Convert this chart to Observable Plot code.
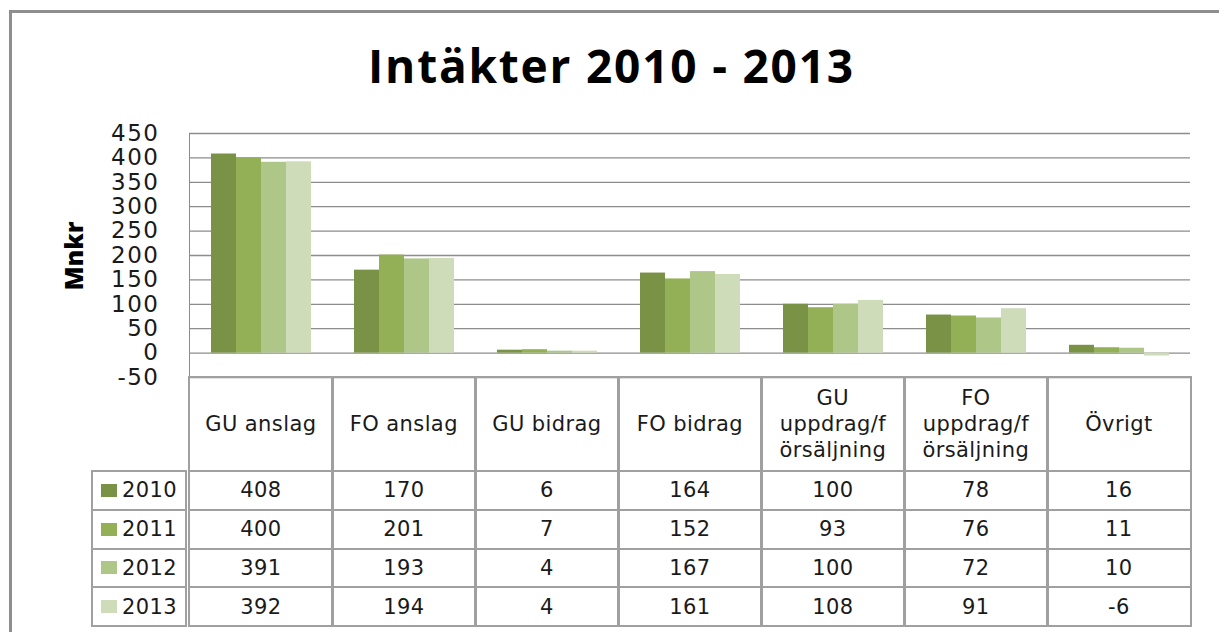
<!DOCTYPE html>
<html>
<head>
<meta charset="utf-8">
<script src="https://cdn.jsdelivr.net/npm/d3@7"></script>
<script src="https://cdn.jsdelivr.net/npm/@observablehq/plot@0.6"></script>
<style>
  html, body { margin: 0; padding: 0; background: #fff; overflow: hidden; }
  #root { position: relative; width: 1219px; height: 632px; overflow: hidden; background: #fff; }
  #frame { position: absolute; left: 9px; top: 10px; width: 1400px; height: 800px; box-sizing: border-box;
           border-left: 3px solid #8e8e8e; border-top: 3px solid #8e8e8e; }
  #title { position: absolute; left: 0; top: 42px; width: 1223px; text-align: center;
           font-family: "Open Sans", sans-serif; font-weight: 700; font-size: 46px; line-height: 46px;
           letter-spacing: 1.8px; color: #000; white-space: nowrap; }
  #ylab { position: absolute; left: 73px; top: 256px; transform: translate(-50%, -50%) rotate(-90deg);
          font-family: "Open Sans", sans-serif; font-weight: 800; font-size: 25px; line-height: 25px;
          color: #000; white-space: nowrap; }
  #chart { position: absolute; left: 0; top: 0; }
  #chart g[aria-label="y-axis tick label"] { fill: #1a1a1a; }
  .cell { position: absolute; box-sizing: border-box; border: 2px solid #a0a0a0; background: transparent;
          display: flex; align-items: center; justify-content: center; text-align: center;
          font-family: "DejaVu Sans", sans-serif; font-size: 21px; letter-spacing: 0.4px; color: #1a1a1a;
          white-space: pre-line; line-height: 26px; }
  .legend { justify-content: flex-start; padding-left: 8px; }
  .sw { width: 16px; height: 13px; margin-right: 5px; flex: none; }
</style>
</head>
<body>
<div id="root">
  <div id="frame"></div>
  <div id="title"></div>
  <div id="ylab"></div>
  <div id="chart"></div>
</div>
<script>
// ---- data ----
const title = "Intäkter 2010 - 2013";
const yLabel = "Mnkr";
const years = ["2010", "2011", "2012", "2013"];
const categories = ["GU anslag", "FO anslag", "GU bidrag", "FO bidrag",
  "GU uppdrag/försäljning", "FO uppdrag/försäljning", "Övrigt"];
const headerLabels = ["GU anslag", "FO anslag", "GU bidrag", "FO bidrag",
  "GU\nuppdrag/f\nörsäljning", "FO\nuppdrag/f\nörsäljning", "Övrigt"];
const values2010 = [408, 170, 6, 164, 100, 78, 16];
const values2011 = [400, 201, 7, 152, 93, 76, 11];
const values2012 = [391, 193, 4, 167, 100, 72, 10];
const values2013 = [392, 194, 4, 161, 108, 91, -6];
const yTicks = [-50, 0, 50, 100, 150, 200, 250, 300, 350, 400, 450];
const yearColors = ["#7a9245", "#93b057", "#aec789", "#cfdcb9"];

// ---- build ----
const series = [values2010, values2011, values2012, values2013];
const rows = years.flatMap((yr, i) => categories.map((c, j) => ({year: yr, category: c, value: series[i][j]})));

document.getElementById("title").textContent = title;
document.getElementById("ylab").textContent = yLabel;

const chart = Plot.plot({
  width: 1219,
  height: 380,
  marginLeft: 186,
  marginRight: 27,
  marginTop: 133,
  marginBottom: 3,
  style: {background: "transparent", fontFamily: "DejaVu Sans", fontSize: "23px", letterSpacing: "1.5px", color: "#8c8c8c", overflow: "visible"},
  fx: {domain: categories, padding: 0, axis: null, label: null},
  x: {domain: years, paddingInner: 0, paddingOuter: 0.76, axis: null},
  y: {domain: [-50, 450], ticks: yTicks, tickSize: 0, tickPadding: 30, tickFormat: d => String(d), label: null, line: true},
  color: {domain: years, range: yearColors},
  marks: [
    Plot.ruleY(yTicks, {stroke: "#8c8c8c", strokeWidth: 1.3}),
    Plot.barY(rows, {fx: "category", x: "year", y: "value", fill: "year", inset: 0})
  ]
});
document.getElementById("chart").appendChild(chart);

// ---- data table below the plot, aligned on the fx scale ----
const root = document.getElementById("root");
const fx = chart.scale("fx");
const yS = chart.scale("y");
const step = (fx.range[1] - fx.range[0]) / categories.length;
const tableTop = yS.apply(-50);
const headerH = 94;
const rowH = 38.75;
const legendLeft = 92;

function cell(x0, y0, w, h, cls) {
  const d = document.createElement("div");
  d.className = "cell" + (cls ? " " + cls : "");
  d.style.left = (x0 - 1) + "px";
  d.style.top = (y0 - 1) + "px";
  d.style.width = (w + 2) + "px";
  d.style.height = (h + 2) + "px";
  root.appendChild(d);
  return d;
}

categories.forEach((c, j) => {
  const x0 = fx.apply(c);
  cell(x0, tableTop, step, headerH).textContent = headerLabels[j];
  years.forEach((yr, i) => {
    cell(x0, tableTop + headerH + i * rowH, step, rowH).textContent = String(series[i][j]);
  });
});
years.forEach((yr, i) => {
  const x0 = fx.range[0];
  const d = cell(legendLeft, tableTop + headerH + i * rowH, x0 - legendLeft, rowH, "legend");
  const sw = document.createElement("span");
  sw.className = "sw";
  sw.style.background = yearColors[i];
  d.appendChild(sw);
  d.appendChild(document.createTextNode(yr));
});
</script>
</body>
</html>
